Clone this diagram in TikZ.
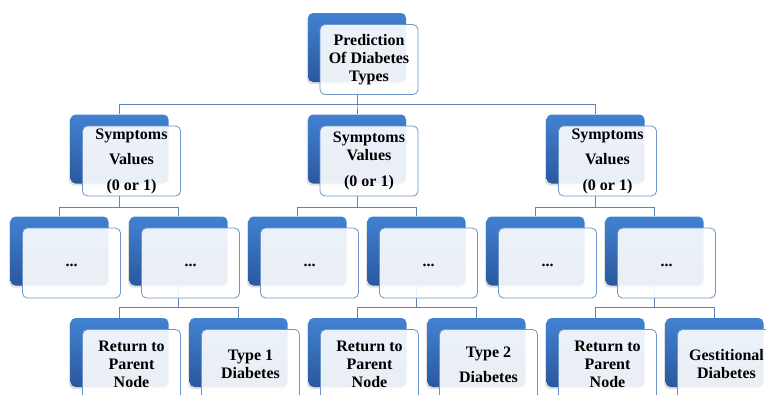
\documentclass[tikz,border=0pt]{standalone}
\usepackage{fontspec}
\setmainfont{Liberation Serif}
\usetikzlibrary{shadows,calc,backgrounds}
\definecolor{bluetop}{RGB}{66,130,210}
\definecolor{bluebot}{RGB}{42,88,158}
\definecolor{frameblue}{RGB}{110,150,202}
\definecolor{connblue}{RGB}{96,132,184}
\tikzset{
 backbox/.style={rectangle, rounded corners=5pt, minimum width=98pt, minimum height=69pt,
   top color=bluetop, bottom color=bluebot, draw=none,
   drop shadow={shadow xshift=-1.5pt, shadow yshift=-2pt, opacity=0.25}},
 frontbox/.style={rectangle, rounded corners=5pt, minimum width=98pt, minimum height=70pt,
   fill=white, fill opacity=0.9, text opacity=1, draw=frameblue, line width=0.8pt,
   align=center, font=\fontsize{16}{18}\selectfont\bfseries, inner sep=0pt},
 conn/.style={draw=connblue, line width=0.9pt},
}
\newcommand\diagcard[4]{%
  \node[backbox] (#1-b) at (#2,#3) {};
  \node[frontbox] (#1) at (#2+12,#3+12) {#4};
}
\begin{document}
\begin{tikzpicture}[x=1pt,y=-1pt]
\useasboundingbox (0,0) rectangle (766,394);
\clip (0,0) rectangle (766,394);
\coordinate (busA) at (0,104);
\coordinate (busB) at (0,207);
\coordinate (busC) at (0,307.5);
% level 1
\diagcard{top}{357}{47.5}{Prediction\\Of Diabetes\\Types}
% level 2
\diagcard{s1}{119.5}{149}{Symptoms\\[7pt]Values\\[8pt](0 or 1)}
\diagcard{s2}{357}{149}{Symptoms\\Values\\[8pt](0 or 1)}
\diagcard{s3}{595.5}{149}{Symptoms\\[7pt]Values\\[8pt](0 or 1)}
% level 3
\diagcard{d1}{59.5}{251}{\strut...}
\diagcard{d2}{178.5}{251}{\strut...}
\diagcard{d3}{297.5}{251}{\strut...}
\diagcard{d4}{416.5}{251}{\strut...}
\diagcard{d5}{535.5}{251}{\strut...}
\diagcard{d6}{654.5}{251}{\strut...}
% level 4
\diagcard{r1}{119.5}{352.5}{Return to\\Parent\\Node}
\diagcard{t1}{238.5}{352.5}{Type 1\\Diabetes}
\diagcard{r2}{357.5}{352.5}{Return to\\Parent\\Node}
\diagcard{t2}{476.5}{352.5}{Type 2\\[7pt]Diabetes}
\diagcard{r3}{595.5}{352.5}{Return to\\Parent\\Node}
\diagcard{g}{714.5}{352.5}{Gestitional\\Diabetes}
\begin{pgfonlayer}{background}
  \fill[white] (0,0) rectangle (766,394);
  \foreach \p/\c in {top/s1,top/s2,top/s3}
    \draw[conn] (\p-b.center) -- (\p-b.center |- busA) -| (\c-b.north);
  \foreach \p/\c in {s1/d1,s1/d2,s2/d3,s2/d4,s3/d5,s3/d6}
    \draw[conn] (\p-b.center) -- (\p-b.center |- busB) -| (\c-b.north);
  \foreach \p/\c in {d2/r1,d2/t1,d4/r2,d4/t2,d6/r3,d6/g}
    \draw[conn] (\p-b.center) -- (\p-b.center |- busC) -| (\c-b.north);
\end{pgfonlayer}
\end{tikzpicture}
\end{document}
